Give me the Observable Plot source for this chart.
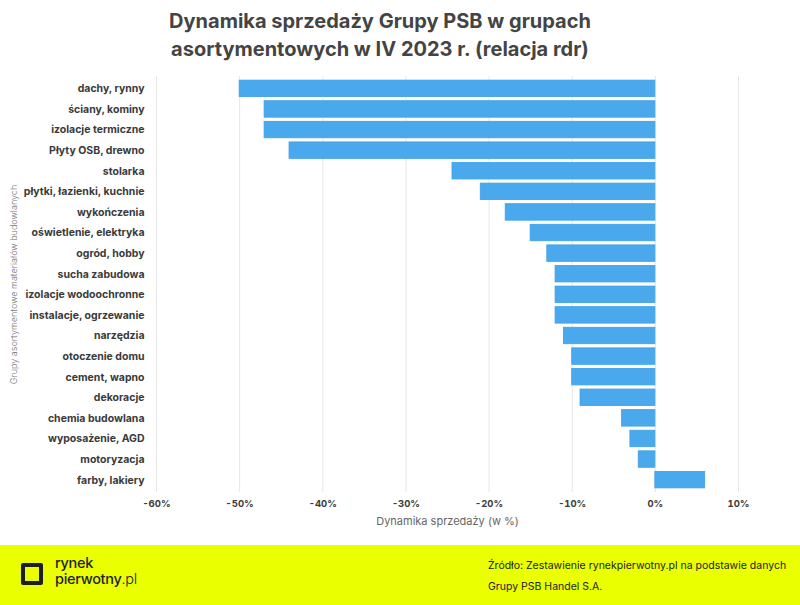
<!DOCTYPE html>
<html>
<head>
<meta charset="utf-8">
<script src="https://cdn.jsdelivr.net/npm/d3@7"></script>
<script src="https://cdn.jsdelivr.net/npm/@observablehq/plot@0.6"></script>
<style>
  html, body { margin: 0; padding: 0; background: #fff; }
  #page { position: relative; width: 800px; height: 605px; overflow: hidden; font-family: Inter, "Open Sans", sans-serif; }
  #title { position: absolute; top: 7px; left: 0; width: 760px; text-align: center; font-weight: 700; font-size: 20px; line-height: 28px; color: #444; }
  #chart { position: absolute; top: 70px; left: 0; }
  #footer { position: absolute; top: 545px; left: 0; width: 800px; height: 60px; background: #eaff00; }
  #logoIcon { position: absolute; left: 21px; top: 563px; width: 14px; height: 14px; border: 4px solid #1e1e28; border-radius: 2px; }
  #logoText { position: absolute; left: 55px; top: 555px; font-size: 14.5px; line-height: 16px; color: #1e1e28; font-weight: 500; letter-spacing: -0.3px; }
  #logoText .pl { font-weight: 300; }
  #source { position: absolute; left: 488px; top: 555px; font-size: 10.5px; line-height: 21px; color: #222; }
</style>
</head>
<body>
<div id="page">
  <div id="title">Dynamika sprzedaży Grupy PSB w grupach<br>asortymentowych w IV 2023 r. (relacja rdr)</div>
  <div id="chart"></div>
  <div id="footer"></div>
  <div id="logoIcon"></div>
  <div id="logoText">rynek<br>pierwotny<span class="pl">.pl</span></div>
  <div id="source">Źródło: Zestawienie rynekpierwotny.pl na podstawie danych<br>Grupy PSB Handel S.A.</div>
</div>
<script>
const categories = [
  "dachy, rynny", "ściany, kominy", "izolacje termiczne", "Płyty OSB, drewno",
  "stolarka", "płytki, łazienki, kuchnie", "wykończenia", "oświetlenie, elektryka",
  "ogród, hobby", "sucha zabudowa", "izolacje wodoochronne", "instalacje, ogrzewanie",
  "narzędzia", "otoczenie domu", "cement, wapno", "dekoracje",
  "chemia budowlana", "wyposażenie, AGD", "motoryzacja", "farby, lakiery"
];
const values = [-50, -47, -47, -44, -24.4, -21, -18, -15, -13, -12, -12, -12, -11, -10, -10, -9, -4, -3, -2, 6];
const xTicks = [-60, -50, -40, -30, -20, -10, 0, 10];
const xLabel = "Dynamika sprzedaży (w %)";
const yLabel = "Grupy asortymentowe materiałów budowlanych";

const data = categories.map((c, i) => ({category: c, value: values[i]}));

const chart = Plot.plot({
  width: 800,
  height: 475,
  marginTop: 6,
  marginBottom: 53,
  marginLeft: 156,
  marginRight: 62,
  style: {fontFamily: "Inter, 'Open Sans', sans-serif", color: "#3a3a3a", background: "transparent"},
  x: {domain: [-60, 10]},
  y: {domain: categories, padding: 0.2, round: false},
  marks: [
    Plot.gridX(xTicks, {stroke: "#e6e6e6", strokeOpacity: 1, strokeWidth: 1}),
    Plot.barX(data, {x: "value", y: "category", fill: "#4aa9ec", stroke: "#3f9fe6", strokeWidth: 0.8}),
    Plot.axisX(xTicks, {tickFormat: d => `${d}%`, tickSize: 0, tickPadding: 8, fontWeight: 700, fontSize: 9.5, fill: "#3a3a3a",
      label: xLabel, labelAnchor: "center", labelArrow: "none", labelOffset: 32}),
    Plot.axisY({tickSize: 0, tickPadding: 12, fontWeight: 700, fontSize: 10.5, fill: "#3a3a3a",
      label: null}),
    Plot.text([yLabel], {frameAnchor: "left", dx: -142, rotate: -90, textAnchor: "middle", text: d => d, fontSize: 9, fill: "#777", fontWeight: 300})
  ]
});
document.getElementById("chart").appendChild(chart);
d3.select(chart).selectAll("[aria-label='x-axis label'] text").attr("fill", "#666").attr("font-weight", 400).attr("font-size", 11);
</script>
</body>
</html>
